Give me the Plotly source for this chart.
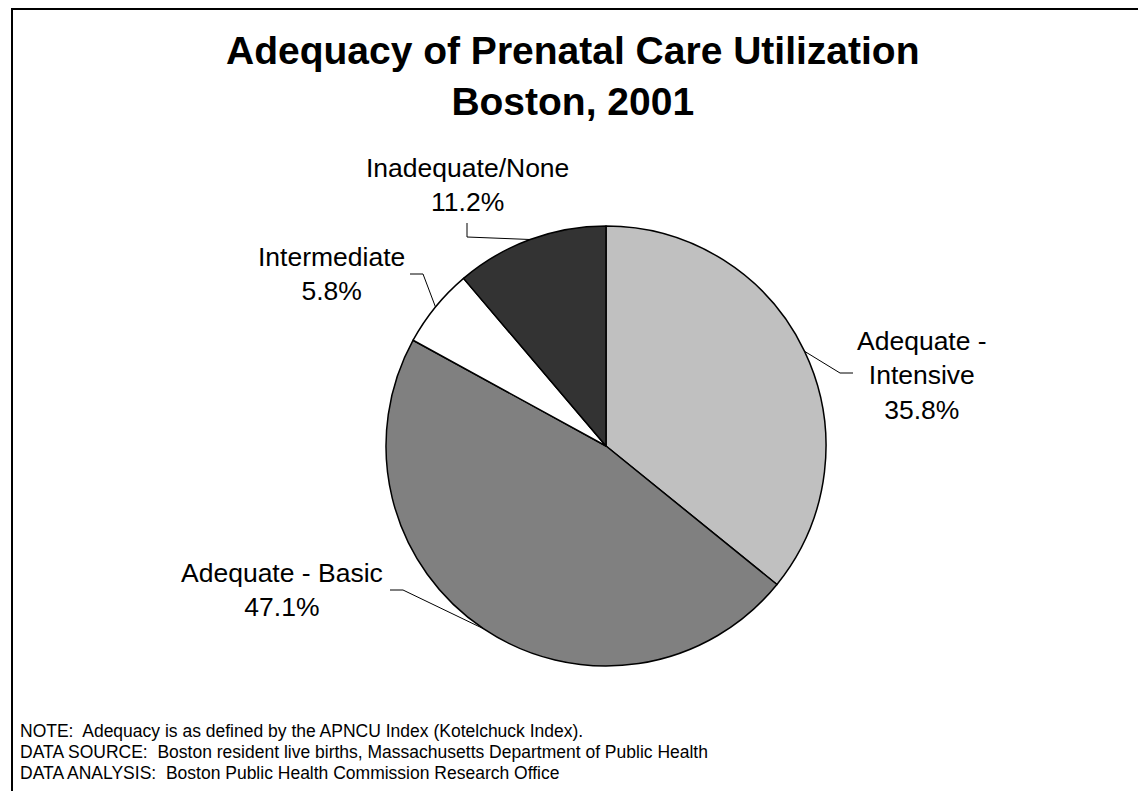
import math
import plotly.graph_objects as go

# Data
categories = ["Adequate - Intensive", "Adequate - Basic", "Intermediate", "Inadequate/None"]
label_text = ["Adequate -<br>Intensive", "Adequate - Basic", "Intermediate", "Inadequate/None"]
values = [35.8, 47.1, 5.8, 11.2]
colors = ["#C0C0C0", "#808080", "#FFFFFF", "#333333"]

title_lines = ["Adequacy of Prenatal Care Utilization", "Boston, 2001"]
notes = [
    "NOTE:  Adequacy is as defined by the APNCU Index (Kotelchuck Index).",
    "DATA SOURCE:  Boston resident live births, Massachusetts Department of Public Health",
    "DATA ANALYSIS:  Boston Public Health Commission Research Office",
]

# page geometry (the html body adds an 8px offset)
PAGE_W, PAGE_H, OFF = 1146, 791, 8
W, H = PAGE_W - OFF, PAGE_H - OFF
CX, CY, R = 606, 446, 220

# label layout (page pixel positions): text center, elbow point, line end near text
label_pos = {
    "Adequate - Intensive": dict(tx=922, ty=375, elbow=(840, 373), end=(853, 373)),
    "Adequate - Basic": dict(tx=282, ty=590, elbow=(403, 590), end=(390, 590)),
    "Intermediate": dict(tx=331, ty=274, elbow=(423, 274), end=(410, 274)),
    "Inadequate/None": dict(tx=467, ty=185, elbow=(467, 237), end=(467, 223)),
}


def px(x):
    return (x - OFF) / W


def py(y):
    return 1 - (y - OFF) / H


fig = go.Figure(
    go.Pie(
        labels=categories,
        values=values,
        sort=False,
        direction="clockwise",
        rotation=0,
        marker=dict(colors=colors, line=dict(color="#000000", width=1.5)),
        textinfo="none",
        hoverinfo="label+percent",
        showlegend=False,
        domain=dict(x=[px(CX - R), px(CX + R)], y=[py(CY + R), py(CY - R)]),
    )
)

annotations = []
shapes = []

FONT = "Liberation Sans, Arial"

# title
annotations.append(dict(
    text="<b>" + "<br>".join(title_lines) + "</b>",
    x=px(573), y=py(76), xref="paper", yref="paper",
    showarrow=False, xanchor="center", yanchor="middle",
    font=dict(family=FONT, size=39, color="#000000"),
))

# slice labels with leader lines computed from the data
total = sum(values)
cum = 0.0
for cat, txt, v in zip(categories, label_text, values):
    mid = (cum + v / 2) / total * 2 * math.pi
    cum += v
    ex = CX + R * math.sin(mid)
    ey = CY - R * math.cos(mid)
    pos = label_pos[cat]
    pct = f"{v / total * 100:.1f}%"
    annotations.append(dict(
        text=f"{txt}<br>{pct}",
        x=px(pos["tx"]), y=py(pos["ty"]), xref="paper", yref="paper",
        showarrow=False, xanchor="center", yanchor="middle",
        font=dict(family=FONT, size=26.5, color="#000000"),
    ))
    (bx, by), (qx, qy) = pos["elbow"], pos["end"]
    shapes.append(dict(
        type="path", xref="paper", yref="paper",
        path=f"M {px(ex)},{py(ey)} L {px(bx)},{py(by)} L {px(qx)},{py(qy)}",
        line=dict(color="#000000", width=1),
    ))

# footnotes
for i, n in enumerate(notes):
    annotations.append(dict(
        text=n, x=px(18), y=py(731 + 21 * i), xref="paper", yref="paper",
        showarrow=False, xanchor="left", yanchor="middle",
        font=dict(family=FONT, size=17.5, color="#000000"),
    ))

# outer frame (only the top and left edges fall inside the picture)
shapes.append(dict(
    type="path", xref="paper", yref="paper",
    path=f"M 1,{py(9)} L {px(12)},{py(9)} L {px(12)},0",
    line=dict(color="#000000", width=2),
))

fig.update_layout(
    width=W, height=H,
    margin=dict(l=0, r=0, t=0, b=0),
    paper_bgcolor="#FFFFFF",
    plot_bgcolor="#FFFFFF",
    annotations=annotations,
    shapes=shapes,
    font=dict(family=FONT, color="#000000"),
)

fig.write_html("out.html")
